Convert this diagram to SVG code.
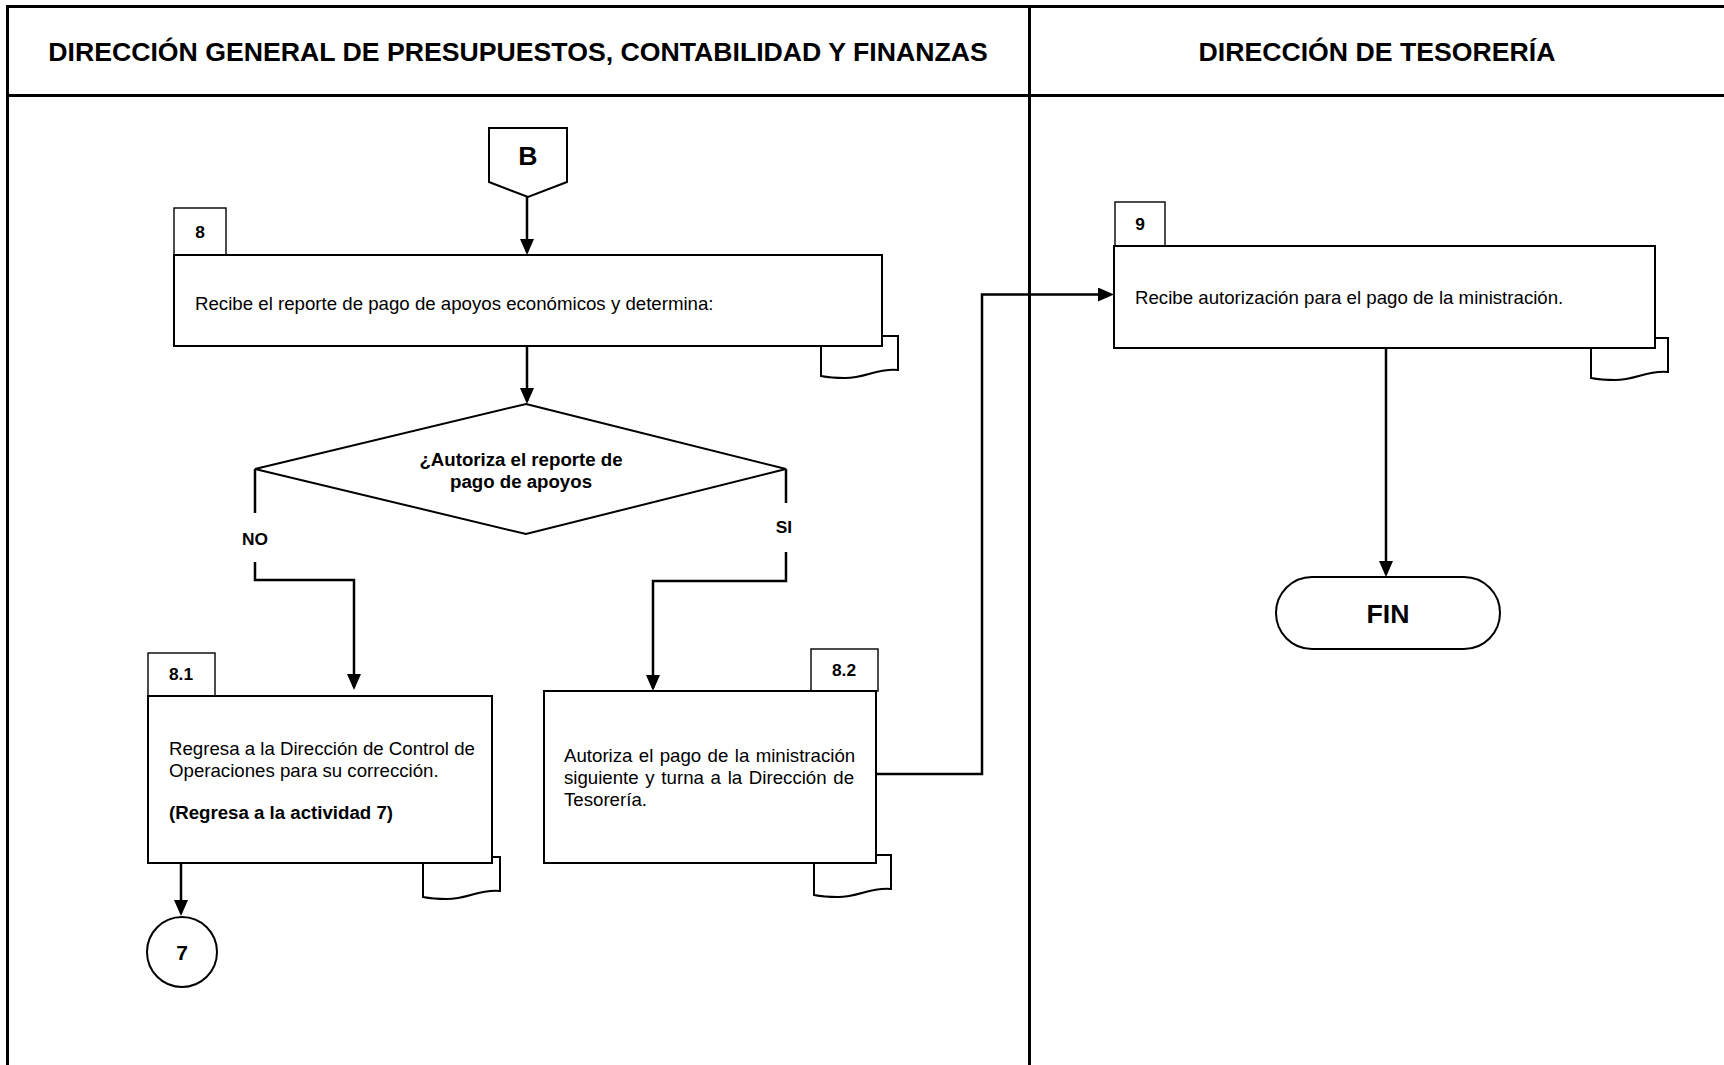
<svg xmlns="http://www.w3.org/2000/svg" width="1724" height="1065" viewBox="0 0 1724 1065">
  <style>
    .frame { stroke: #000; stroke-width: 3; fill: none; }
    .box { fill: #fff; stroke: #000; stroke-width: 2; }
    .tab { fill: #fff; stroke: #000; stroke-width: 1.4; }
    .doc { fill: #fff; stroke: #000; stroke-width: 2; }
    .conn { fill: none; stroke: #000; stroke-width: 2.5; }
    .arr { marker-end: url(#arrow); }
    text { font-family: "Liberation Sans", Arial, sans-serif; fill: #000; }
    .head { font-size: 26.67px; font-weight: bold; text-anchor: middle; }
    .body { font-size: 18.67px; }
    .bold { font-weight: bold; }
    .num { font-size: 17.33px; font-weight: bold; text-anchor: middle; }
    .big { font-size: 26.67px; font-weight: bold; text-anchor: middle; }
    .q { font-size: 18.67px; font-weight: bold; text-anchor: middle; }
    .circ { font-size: 21px; font-weight: bold; text-anchor: middle; }
  </style>
  <defs>
    <marker id="arrow" markerUnits="userSpaceOnUse" markerWidth="16" markerHeight="14" viewBox="0 0 16 14" refX="13" refY="7" orient="auto">
      <path d="M0,0 L16,7 L0,14 Z" fill="#000"/>
    </marker>
    <!-- document symbol with wavy bottom, 77 wide -->
    <path id="docShape" d="M0,0 H77 V34 C56,32 45,42 24,42 C13,42 5,41 0,40 Z"/>
  </defs>

  <rect width="1724" height="1065" fill="#fff"/>

  <!-- swimlane frame -->
  <g id="lanes">
    <line class="frame" x1="6" y1="6.5" x2="1724" y2="6.5"/>
    <line class="frame" x1="7.5" y1="5" x2="7.5" y2="1065" stroke-width="2.7"/>
    <line class="frame" x1="6" y1="95.5" x2="1724" y2="95.5"/>
    <line class="frame" x1="1029.5" y1="5" x2="1029.5" y2="1065" stroke-width="2.3"/>
    <text class="head" x="518" y="60.5">DIRECCIÓN GENERAL DE PRESUPUESTOS, CONTABILIDAD Y FINANZAS</text>
    <text class="head" x="1377" y="60.5">DIRECCIÓN DE TESORERÍA</text>
  </g>

  <!-- connectors -->
  <g id="connectors">
    <path class="conn arr" d="M527,197 V252"/>
    <path class="conn arr" d="M527,346 V401"/>
    <path class="conn" d="M255,469 V513"/>
    <path class="conn arr" d="M255,562 V580 H354 V687"/>
    <path class="conn" d="M786,469 V503"/>
    <path class="conn arr" d="M786,552 V581 H653 V688"/>
    <path class="conn arr" d="M181,863 V913"/>
    <path class="conn arr" d="M876,774 H982 V294.5 H1111"/>
    <path class="conn arr" d="M1386,348 V574"/>
  </g>

  <!-- off-page connector B -->
  <g id="node-B">
    <path class="box" d="M489,128 H567 V182 L528,197 L489,182 Z"/>
    <text class="big" x="528" y="165">B</text>
  </g>

  <!-- activity 8 -->
  <g id="node-8">
    <use href="#docShape" class="doc" x="821" y="336"/>
    <rect class="tab" x="174" y="208" width="52" height="47"/>
    <text class="num" x="200" y="238">8</text>
    <rect class="box" x="174" y="255" width="708" height="91"/>
    <text class="body" x="195" y="310">Recibe el reporte de pago de apoyos económicos y determina:</text>
  </g>

  <!-- decision -->
  <g id="node-decision">
    <path class="box" d="M526,404 L786,469 L526,534 L255,469 Z"/>
    <text class="q" x="521" y="466">¿Autoriza el reporte de</text>
    <text class="q" x="521" y="488">pago de apoyos</text>
    <text class="num" x="255" y="545">NO</text>
    <text class="num" x="784" y="533">SI</text>
  </g>

  <!-- activity 8.1 -->
  <g id="node-8-1">
    <use href="#docShape" class="doc" x="423" y="857"/>
    <rect class="tab" x="148" y="653" width="67" height="43"/>
    <text class="num" x="181" y="680">8.1</text>
    <rect class="box" x="148" y="696" width="344" height="167"/>
    <text class="body" x="169" y="755">Regresa a la Dirección de Control de</text>
    <text class="body" x="169" y="777">Operaciones para su corrección.</text>
    <text class="body bold" x="169" y="819">(Regresa a la actividad 7)</text>
  </g>

  <!-- connector 7 -->
  <g id="node-7">
    <circle class="box" cx="182" cy="952" r="35"/>
    <text class="circ" x="182" y="960">7</text>
  </g>

  <!-- activity 8.2 -->
  <g id="node-8-2">
    <use href="#docShape" class="doc" x="814" y="855"/>
    <rect class="tab" x="811" y="649" width="67" height="42"/>
    <text class="num" x="844" y="676">8.2</text>
    <rect class="box" x="544" y="691" width="332" height="172"/>
    <text class="body" x="564" y="762" word-spacing="1.2">Autoriza el pago de la ministración</text>
    <text class="body" x="564" y="784" word-spacing="1.5">siguiente y turna a la Dirección de</text>
    <text class="body" x="564" y="806">Tesorería.</text>
  </g>

  <!-- activity 9 -->
  <g id="node-9">
    <use href="#docShape" class="doc" x="1591" y="338"/>
    <rect class="tab" x="1115" y="202" width="50" height="44"/>
    <text class="num" x="1140" y="230">9</text>
    <rect class="box" x="1114" y="246" width="541" height="102"/>
    <text class="body" x="1135" y="304">Recibe autorización para el pago de la ministración.</text>
  </g>

  <!-- end terminator -->
  <g id="node-FIN">
    <rect class="box" x="1276" y="577" width="224" height="72" rx="36" ry="36"/>
    <text class="big" x="1388" y="623">FIN</text>
  </g>
</svg>
